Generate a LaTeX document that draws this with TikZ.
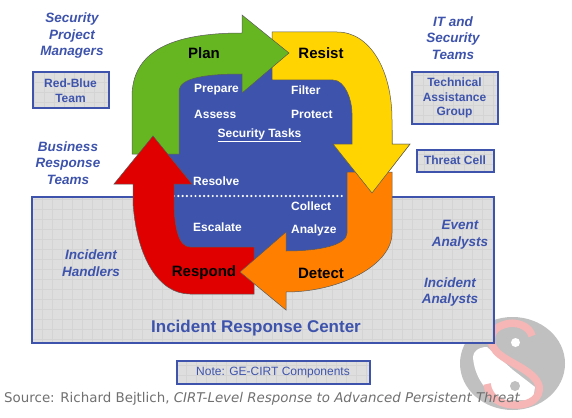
\documentclass[tikz,border=0pt]{standalone}
\usepackage{fontspec}
\setmainfont{Liberation Sans}
\newfontfamily\sourcefont{DejaVu Sans}
\usetikzlibrary{positioning}
\definecolor{irblue}{RGB}{62,84,172}
\definecolor{irgrey}{RGB}{222,222,222}
\definecolor{irgrid}{RGB}{212,212,212}
\definecolor{irgreen}{RGB}{102,182,34}
\definecolor{iryellow}{RGB}{255,212,0}
\definecolor{irorange}{RGB}{255,128,0}
\definecolor{irred}{RGB}{224,0,0}
\definecolor{irpink}{RGB}{246,182,182}
\definecolor{irlogo}{RGB}{192,192,192}
\definecolor{irsource}{RGB}{112,112,112}
\tikzset{
  gridbox/.style={draw=irblue,line width=2pt,fill=irgrey,inner sep=0pt,align=center,
    text=irblue,font=\fontsize{12}{14.5}\selectfont\bfseries,
    path picture={\draw[irgrid,line width=.6pt,step=10pt]
      (path picture bounding box.south west) grid (path picture bounding box.north east);}},
  teamlabel/.style={align=center,text=irblue,font=\fontsize{13.5}{16.5}\selectfont\bfseries\itshape},
  tasklabel/.style={anchor=west,inner sep=0pt,text=white,font=\fontsize{12}{14}\selectfont\bfseries},
  phaselabel/.style={inner sep=0pt,text=black,font=\fontsize{15}{16}\selectfont\bfseries},
  phasearrow/.style={draw=black!65,line width=.5pt}
}
\newcommand{\resistpath}{(272,32) -- (337,32) .. controls (370,32) and (392,70) .. (392,120)
  -- (392,144) -- (410,144) -- (372,193) -- (333,144) -- (352,144) -- (352,113)
  .. controls (352,100) and (345,80) .. (333,80) -- (272,80) -- cycle}
\begin{document}
\begin{tikzpicture}[x=1pt,y=-1pt]
  \useasboundingbox (0,0) rectangle (572,417);
  % logo
  \fill[irlogo] (512.5,363.5) ellipse [x radius=52.5,y radius=46.5];
  \fill[white] (487,347) -- (513,370) -- (535,387) -- (533,400) -- (500,400)
    .. controls (485,392) and (474,375) .. (473,357) .. controls (473,352) and (478,347) .. (487,347);
  \draw[irpink,line width=7.5pt] (532,336) .. controls (530,326) and (515,320) .. (503,325)
    .. controls (490,329) and (488,342) .. (496,351) .. controls (505,362) and (535,370) .. (539,386)
    .. controls (541,398) and (530,405) .. (517,405) .. controls (500,405) and (489,398) .. (487,384);
  \fill[white] (515.5,342.5) circle (4.5);
  \fill[irlogo] (515,386) circle (5);
  % grey boxes
  \node[gridbox,minimum width=462pt,minimum height=146pt] (center) at (262.5,269.5) {};
  \node[gridbox,minimum width=76pt,minimum height=36pt] (redblue) at (70.5,90.5) {Red-Blue\\Team};
  \node[gridbox,minimum width=86pt,minimum height=51pt] (assist) at (454.5,98) {Technical\\Assistance\\Group};
  \node[gridbox,minimum width=77pt,minimum height=22pt] (threat) at (455,160.5) {Threat Cell};
  \node[gridbox,minimum width=193pt,minimum height=23pt,
    font=\fontsize{12}{14}\selectfont] (note) at (273,372.5) {Note: GE-CIRT Components};
  % blue middle
  \fill[irblue] (160,154) -- (160,100) -- (200,60) -- (330,60) -- (370,110) -- (370,240)
    -- (330,270) -- (160,270) -- (150,200) -- (150,180) -- cycle;
  \draw[white,line width=2.4pt,line cap=round,dash pattern=on 0pt off 4.3pt] (174,196) -- (342,196);
  % cycle
  \filldraw[phasearrow,fill=iryellow] \resistpath;
  \filldraw[phasearrow,fill=irgreen] (132,154) -- (132,97) .. controls (132,52) and (170,33) .. (242,33)
    -- (242,15) -- (289,53) -- (242,93) -- (242,74) .. controls (205,74) and (181,78) .. (179,90)
    -- (179,154) -- cycle;
  \filldraw[phasearrow,fill=irred] (254,247) -- (190,247) .. controls (178,247) and (174,225) .. (174,200)
    -- (174,184) -- (192,184) -- (153,136) -- (114,184) -- (133,184) -- (133,203)
    .. controls (137,260) and (160,294) .. (190,294) -- (254,294) -- cycle;
  \filldraw[phasearrow,fill=irorange] (347,172) -- (392,172) -- (392,233)
    .. controls (392,265) and (340,292) .. (286,292) -- (286,310) -- (240,272) -- (286,232) -- (286,251)
    .. controls (320,251) and (347,245) .. (347,233) -- cycle;
  \begin{scope}
    \clip (325,130) rectangle (420,200);
    \filldraw[phasearrow,fill=iryellow] \resistpath;
  \end{scope}
  % phases
  \node[phaselabel] (plan) at (204,53) {Plan};
  \node[phaselabel] (resist) at (321,53) {Resist};
  \node[phaselabel] (respond) at (204,273) {Respond};
  \node[phaselabel] (detect) at (321,273) {Detect};
  % tasks
  \node[tasklabel] (prepare) at (194,90) {Prepare};
  \node[tasklabel] (assess) at (194,114) {Assess};
  \node[tasklabel] (filter) at (291,90) {Filter};
  \node[tasklabel] (protect) at (291,114) {Protect};
  \node[tasklabel,anchor=center] (tasks) at (259.5,135) {\underline{Security Tasks}};
  \node[tasklabel] (resolve) at (193,181) {Resolve};
  \node[tasklabel] (collect) at (291,206) {Collect};
  \node[tasklabel] (analyze) at (291,230) {Analyze};
  \node[tasklabel] (escalate) at (193,227) {Escalate};
  % teams
  \node[teamlabel] (managers) at (72,36) {Security\\Project\\Managers};
  \node[teamlabel] (itteams) at (453,38) {IT and\\Security\\Teams};
  \node[teamlabel] (business) at (68,163) {Business\\Response\\Teams};
  \node[teamlabel] (handlers) at (91,263) {Incident\\Handlers};
  \node[teamlabel] (event) at (460,235) {Event\\Analysts};
  \node[teamlabel] (analysts) at (450,292) {Incident\\Analysts};
  \node[text=irblue,font=\fontsize{17}{19}\selectfont\bfseries] (title) at (256,328) {Incident Response Center};
  \node[anchor=west,inner sep=0pt,text=irsource,font=\fontsize{13.4}{15}\sourcefont] (source) at (4,399)
    {Source: Richard Bejtlich, \textit{CIRT-Level Response to Advanced Persistent Threat}};
\end{tikzpicture}
\end{document}
